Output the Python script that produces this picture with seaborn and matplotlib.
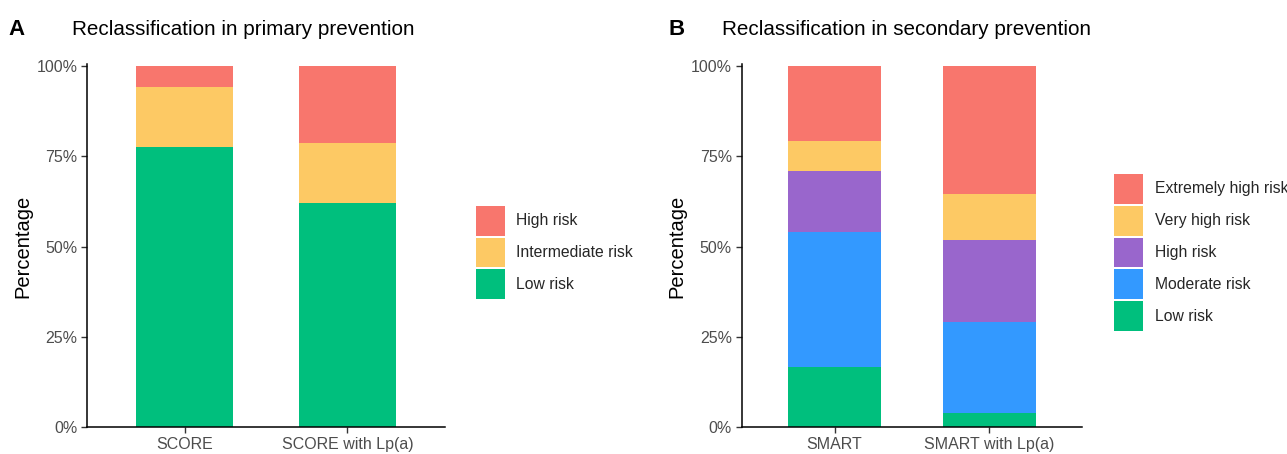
import matplotlib
matplotlib.use("Agg")
import matplotlib.pyplot as plt
import numpy as np
import pandas as pd
import seaborn as sns
from matplotlib.ticker import PercentFormatter

# data (shares, bottom to top of each stack)
primary_models = ["SCORE", "SCORE with Lp(a)"]
primary_risks = ["Low risk", "Intermediate risk", "High risk"]
primary_low = [0.775, 0.620]
primary_intermediate = [0.168, 0.168]
primary_high = [0.057, 0.212]

secondary_models = ["SMART", "SMART with Lp(a)"]
secondary_risks = ["Low risk", "Moderate risk", "High risk", "Very high risk", "Extremely high risk"]
secondary_low = [0.165, 0.040]
secondary_moderate = [0.376, 0.250]
secondary_high = [0.167, 0.229]
secondary_very_high = [0.083, 0.126]
secondary_extreme = [0.209, 0.355]

primary_colors = ["#00BF7D", "#FDC964", "#F8766D"]
secondary_colors = ["#00BF7D", "#3399FF", "#9966CC", "#FDC964", "#F8766D"]

sns.set_theme(style="ticks")
plt.rcParams["font.family"] = ["Liberation Sans", "DejaVu Sans"]


def stacked(ax, models, risks, series, colors):
    df = pd.DataFrame({"model": np.repeat(models, len(risks)),
                       "risk": risks * len(models)})
    df["pct"] = [series[j][i] for i in range(len(models)) for j in range(len(risks))]
    df["risk"] = pd.Categorical(df["risk"], categories=risks, ordered=True)
    df = df.sort_values(["model", "risk"])
    df["cum"] = df.groupby("model")["pct"].cumsum()
    # draw tallest layer first so lower layers sit on top of it
    for risk, col in zip(risks[::-1], colors[::-1]):
        sub = df[df["risk"] == risk]
        sns.barplot(data=sub, x="model", y="cum", order=models, color=col,
                    saturation=1, width=0.6, errorbar=None, linewidth=0,
                    label=risk, ax=ax)
    ax.set_xlim(-0.6, 1.6)
    ax.set_ylim(0, 1)
    ax.set_yticks([0, 0.25, 0.5, 0.75, 1.0])
    ax.yaxis.set_major_formatter(PercentFormatter(1.0, decimals=0))
    ax.set_xlabel("")
    ax.set_ylabel("Percentage", fontsize=14.5, color="black", labelpad=3)
    ax.tick_params(axis="both", labelsize=11.5, labelcolor="#4D4D4D", color="#333333",
                   length=4, width=1, pad=3)
    for s in ["top", "right"]:
        ax.spines[s].set_visible(False)
    for s in ["left", "bottom"]:
        ax.spines[s].set_color("black")
        ax.spines[s].set_linewidth(1.1)
    ax.spines["left"].set_bounds(0, 1.005)


fig = plt.figure(figsize=(12.87, 4.54), dpi=100)
ax1 = fig.add_axes([0.0676, 0.0595, 0.2782, 0.795])
ax2 = fig.add_axes([0.5763, 0.0595, 0.2646, 0.795])

stacked(ax1, primary_models, primary_risks,
        [primary_low, primary_intermediate, primary_high], primary_colors)
stacked(ax2, secondary_models, secondary_risks,
        [secondary_low, secondary_moderate, secondary_high, secondary_very_high, secondary_extreme],
        secondary_colors)

for ax, xpos in [(ax1, 0.3696), (ax2, 0.8656)]:
    h, l = ax.get_legend_handles_labels()
    ax.legend(h, l, loc="center left", bbox_to_anchor=(xpos, 0.4438),
              bbox_transform=fig.transFigure, frameon=False, fontsize=11.3,
              handlelength=1.85, handleheight=2.55, labelspacing=0.13,
              handletextpad=0.75, borderpad=0, borderaxespad=0)

fig.text(8 / 1287, 1 - 35 / 454, "A", fontsize=16, fontweight="bold", color="black")
fig.text(72 / 1287, 1 - 35 / 454, "Reclassification in primary prevention", fontsize=14.9, color="black")
fig.text(668 / 1287, 1 - 35 / 454, "B", fontsize=16, fontweight="bold", color="black")
fig.text(722 / 1287, 1 - 35 / 454, "Reclassification in secondary prevention", fontsize=14.9, color="black")

fig.savefig("out.png", dpi=100)
